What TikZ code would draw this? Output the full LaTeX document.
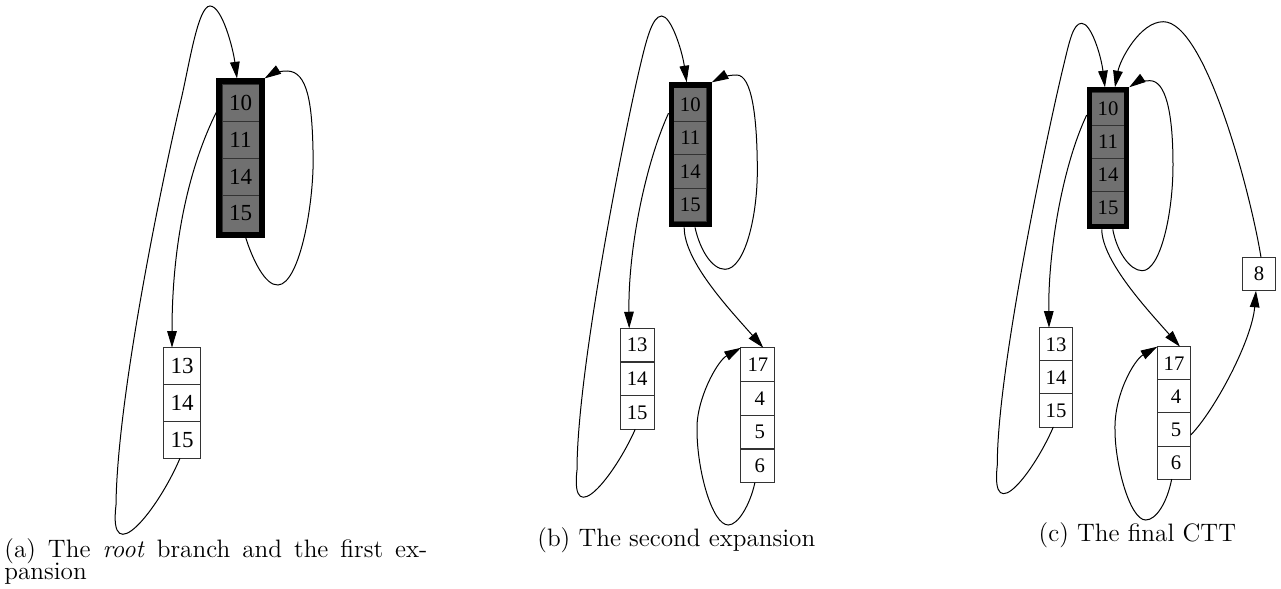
\documentclass[tikz,border=0pt]{standalone}
\usepackage{fontspec}
\newfontfamily\numfont{Liberation Serif}
\usetikzlibrary{arrows.meta}
\definecolor{cellgray}{HTML}{707070}
\tikzset{
  conn/.style={line width=0.5pt, -{Triangle[length=8.3pt,width=4.8pt]}},
  cellbase/.style={draw=black!80, line width=0.5pt, inner sep=0pt, outer sep=0pt, text=black},
  gA/.style={cellbase, fill=cellgray, minimum width=18.5pt, minimum height=18.5pt, font=\numfont\fontsize{11.5}{12}\selectfont},
  wA/.style={cellbase, fill=white, minimum width=18.7pt, minimum height=18.45pt, font=\numfont\fontsize{11.5}{12}\selectfont},
  gB/.style={cellbase, fill=cellgray, minimum width=16.4pt, minimum height=16.6pt, font=\numfont\fontsize{10.35}{11}\selectfont},
  wB/.style={cellbase, fill=white, minimum width=17pt, minimum height=16.8pt, font=\numfont\fontsize{10.35}{11}\selectfont},
  wC/.style={cellbase, fill=white, minimum width=16.7pt, minimum height=16.55pt, font=\numfont\fontsize{10.35}{11}\selectfont},
  gframe/.style={draw=black, fill=none, inner sep=0pt},
  captext/.style={inner sep=0pt, anchor=base west, font=\fontsize{12.6}{14}\selectfont}
}
\begin{document}
\begin{tikzpicture}[x=0.5pt,y=-0.5pt]
\useasboundingbox (0,0) rectangle (1281,589);

% ---------------- panel (a) ----------------
\node[gA] (aG1) at (240.5,102.5) {10};
\node[gA] (aG2) at (240.5,139.5) {11};
\node[gA] (aG3) at (240.5,176.5) {14};
\node[gA] (aG4) at (240.5,213.5) {15};
\node[gframe, line width=2.75pt, outer sep=1.375pt, minimum width=21.3pt, minimum height=76.8pt] (aG) at (240.5,158) {};
\node[wA] (aW1) at (182,366.1) {13};
\node[wA] (aW2) at (182,403) {14};
\node[wA] (aW3) at (182,439.8) {15};

\coordinate (a1s) at ([xshift=-1pt]aW3.south);
\coordinate (a1e) at ([xshift=-1.75pt]aG.north);
\draw[conn] (a1s) .. controls (158,510) and (108,572) .. (116,505)
  .. controls (117,400) and (160,190) .. (181,100)
  .. controls (189.4,64) and (198,6) .. (210,6)
  .. controls (222,6) and (233,48) .. (a1e);
\coordinate (a2s) at ([xshift=2.6pt]aG.south);
\draw[conn] (a2s) .. controls (252,258) and (265,286) .. (278,285)
  .. controls (300,284) and (315,200) .. (313,150)
  .. controls (312,105) and (308,71) .. (287,71)
  .. controls (277,71) and (270,75) .. (aG.north east);
\coordinate (a3s) at ([yshift=23pt]aG.west);
\coordinate (a3e) at ([xshift=-5pt]aW1.north);
\draw[conn] (a3s) .. controls (190,165) and (172,240) .. (a3e);

\node[captext] (capa1) at (4,557.3) {\makebox[211.5pt][s]{(a) The \emph{root} branch and the first ex-}};
\node[captext] (capa2) at (4,579.3) {pansion};

% ---------------- panel (b) ----------------
\node[gB] (bG1) at (690.3,104.45) {10};
\node[gB] (bG2) at (690.3,137.95) {11};
\node[gB] (bG3) at (690.3,171.45) {14};
\node[gB] (bG4) at (690.3,204.95) {15};
\node[gframe, line width=2.7pt, outer sep=1.35pt, minimum width=19pt, minimum height=69.85pt] (bG) at (690.2,154.85) {};
\node[wB] (bW1) at (637.2,345.15) {13};
\node[wB] (bW2) at (637.2,378.85) {14};
\node[wB] (bW3) at (637.2,412.55) {15};
\node[wB] (bX1) at (757.9,364.6) {17};
\node[wB] (bX2) at (757.9,398.35) {\hspace{2pt}4};
\node[wB] (bX3) at (757.9,432.1) {\hspace{2pt}5};
\node[wB] (bX4) at (757.9,465.85) {\hspace{2pt}6};

\coordinate (b1s) at ([xshift=-1pt]bW3.south);
\coordinate (b1e) at ([xshift=-1.75pt]bG.north);
\draw[conn] (b1s) .. controls (615,475) and (570,532) .. (577,470)
  .. controls (577,370) and (625,130) .. (640,66.7)
  .. controls (646,41.4) and (652,16) .. (661.7,16)
  .. controls (671,16) and (682,50) .. (b1e);
\coordinate (b2s) at ([xshift=2.4pt]bG.south);
\draw[conn] (b2s) .. controls (700,250) and (712,269.3) .. (725,269.3)
  .. controls (745,269.3) and (758,215) .. (757.3,166.7)
  .. controls (757,118) and (752,75) .. (736.7,75)
  .. controls (726,75) and (718,79) .. (bG.north east);
\coordinate (b3s) at ([yshift=20.8pt]bG.west);
\coordinate (b3e) at ([xshift=-4pt]bW1.north);
\draw[conn] (b3s) .. controls (645,165) and (628,250) .. (b3e);
\coordinate (b4s) at ([xshift=-3pt]bG.south);
\coordinate (b4e) at ([xshift=2.7pt]bX1.north);
\draw[conn] (b4s) .. controls (684,262) and (732,312) .. (b4e);
\coordinate (b5s) at ([xshift=-1.5pt]bX4.south);
\draw[conn] (b5s) .. controls (750,505) and (738,525) .. (728.3,525)
  .. controls (712,525) and (697,470) .. (697,430)
  .. controls (696,400) and (717,361.2) .. (bX1.north west);

\node[captext] (capb) at (537,546.5) {(b) The second expansion};

% ---------------- panel (c) ----------------
\node[gB] (cG1) at (1108,108.8) {10};
\node[gB] (cG2) at (1108,141.8) {11};
\node[gB] (cG3) at (1108,174.8) {14};
\node[gB] (cG4) at (1108,207.8) {15};
\node[gframe, line width=2.5pt, outer sep=1.25pt, minimum width=18.75pt, minimum height=68.5pt] (cG) at (1107.95,158.3) {};
\node[wC] (cW1) at (1056,344.25) {13};
\node[wC] (cW2) at (1056,377.35) {14};
\node[wC] (cW3) at (1056,410.45) {15};
\node[wC] (cX1) at (1174,363.25) {17};
\node[wC] (cX2) at (1174,396.35) {\hspace{2pt}4};
\node[wC] (cX3) at (1174,429.45) {\hspace{2pt}5};
\node[wC] (cX4) at (1174,462.55) {\hspace{2pt}6};
\node[wC, minimum height=16.7pt] (c8) at (1259,274) {8};

\coordinate (c1s) at ([xshift=-1.35pt]cW3.south);
\coordinate (c1e) at ([xshift=-1.5pt]cG.north);
\draw[conn] (c1s) .. controls (1035,470) and (990,530) .. (997.3,465)
  .. controls (997,370) and (1048,130) .. (1063.3,66.7)
  .. controls (1069.4,41.4) and (1073,23.3) .. (1081.7,23.3)
  .. controls (1091,23.3) and (1101,55) .. (c1e);
\coordinate (c2s) at ([xshift=1pt]c8.north);
\coordinate (c2e) at ([xshift=3.5pt]cG.north);
\draw[conn] (c2s) .. controls (1250,190) and (1205,21.7) .. (1163.3,21.7)
  .. controls (1140,21.7) and (1120,60) .. (c2e);
\coordinate (c3s) at ([xshift=2.4pt]cG.south);
\draw[conn] (c3s) .. controls (1117,252) and (1130,270.7) .. (1142.3,270.7)
  .. controls (1160,270.7) and (1173,215) .. (1173,165)
  .. controls (1173,110) and (1165,80.7) .. (1150,80.7)
  .. controls (1140,80.7) and (1134,84) .. (cG.north east);
\coordinate (c4s) at ([yshift=21.65pt]cG.west);
\coordinate (c4e) at ([xshift=-3.5pt]cW1.north);
\draw[conn] (c4s) .. controls (1063,165) and (1048,250) .. (c4e);
\coordinate (c5s) at ([xshift=-3.1pt]cG.south);
\coordinate (c5e) at ([xshift=3pt]cX1.north);
\draw[conn] (c5s) .. controls (1102,262) and (1150.75,313.2) .. (c5e);
\coordinate (c6s) at ([yshift=-2.8pt]cX3.east);
\coordinate (c6e) at ([xshift=-1.5pt]c8.south);
\draw[conn] (c6s) .. controls (1215,410) and (1252,340) .. (c6e);
\coordinate (c7s) at ([xshift=-1.15pt]cX4.south);
\draw[conn] (c7s) .. controls (1167,503) and (1156,520) .. (1145.7,520)
  .. controls (1130,520) and (1115,465) .. (1115,430)
  .. controls (1114,395) and (1134,360) .. (cX1.north west);

\node[captext] (capc) at (1038.3,541.7) {(c) The final CTT};
\end{tikzpicture}
\end{document}
